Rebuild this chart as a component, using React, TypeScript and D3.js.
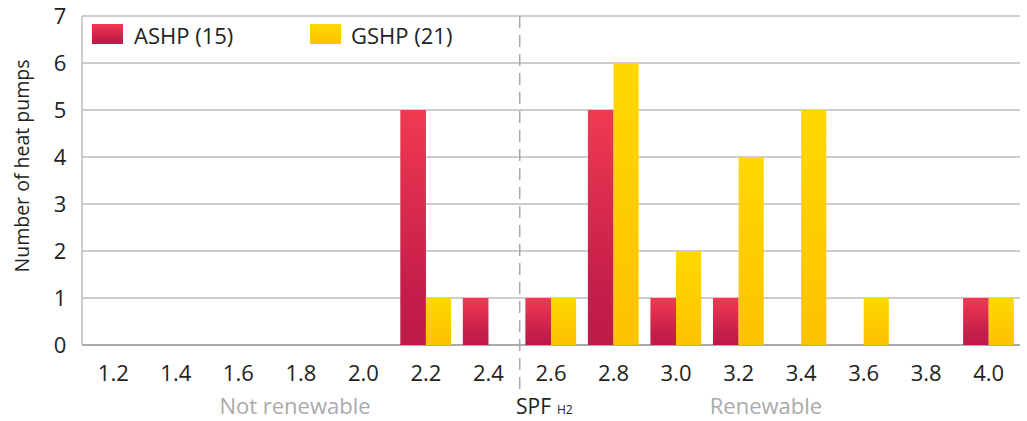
import React from "react";
import * as d3 from "d3";

const categories = ["1.2", "1.4", "1.6", "1.8", "2.0", "2.2", "2.4", "2.6", "2.8", "3.0", "3.2", "3.4", "3.6", "3.8", "4.0"];
const ashp = [0, 0, 0, 0, 0, 5, 1, 1, 5, 1, 1, 0, 0, 0, 1];
const gshp = [0, 0, 0, 0, 0, 1, 0, 1, 6, 2, 4, 5, 1, 0, 1];
const yTicks = [0, 1, 2, 3, 4, 5, 6, 7];
const seriesNames = ["ASHP (15)", "GSHP (21)"];
const dividerAfter = "2.4";

const W = 1027;
const H = 421;
const M = { left: 82, right: 1020, top: 16, bottom: 345 };
const FONT = "'Open Sans', 'Noto Sans', sans-serif";

export default function App() {
  const x = d3.scaleBand<string>().domain(categories).range([M.left, M.right]).paddingInner(0).paddingOuter(0);
  const x1 = d3.scaleBand<string>().domain(["a", "g"]).range([0, x.bandwidth()]).paddingInner(0).paddingOuter(0.22);
  const y = d3.scaleLinear().domain([0, 7]).range([M.bottom, M.top]);
  const divX = (x(dividerAfter) as number) + x.bandwidth();

  return (
    <svg width={W} height={H} style={{ position: "absolute", left: 0, top: 0, fontFamily: FONT }}>
      <defs>
        <linearGradient id="gRed" x1="0" y1="0" x2="0" y2="1">
          <stop offset="0" stopColor="#f03a51" />
          <stop offset="0.75" stopColor="#c51e4a" />
          <stop offset="1" stopColor="#be1a47" />
        </linearGradient>
        <linearGradient id="gYel" x1="0" y1="0" x2="0" y2="1">
          <stop offset="0" stopColor="#ffd800" />
          <stop offset="1" stopColor="#fcc200" />
        </linearGradient>
      </defs>
      <rect x={0} y={0} width={W} height={H} fill="#fff" />
      {/* grid */}
      {yTicks.map((t) => (
        <line key={t} x1={M.left} x2={M.right} y1={y(t)} y2={y(t)} stroke={t === 0 ? "#a8a8ad" : "#bcbcbf"} strokeWidth={t === 0 ? 2 : 1.5} />
      ))}
      <line x1={M.left} x2={M.left} y1={M.top} y2={M.bottom} stroke="#bcbcbf" strokeWidth={1.5} />
      {/* divider */}
      <line x1={divX} x2={divX} y1={M.top} y2={395} stroke="#a8a8ad" strokeWidth={1.5} strokeDasharray="12,7" />
      {/* bars */}
      {categories.map((c, i) => (
        <g key={c} transform={`translate(${x(c)},0)`}>
          {ashp[i] > 0 && (
            <rect x={x1("a")} y={y(ashp[i])} width={x1.bandwidth()} height={y(0) - y(ashp[i])} fill="url(#gRed)" />
          )}
          {gshp[i] > 0 && (
            <rect x={x1("g")} y={y(gshp[i])} width={x1.bandwidth() - 0.5} height={y(0) - y(gshp[i])} fill="url(#gYel)" />
          )}
        </g>
      ))}
      {/* y tick labels */}
      {yTicks.map((t) => (
        <text key={t} x={60} y={y(t) + 8} textAnchor="middle" fontSize={22} fill="#222">
          {t}
        </text>
      ))}
      {/* x tick labels */}
      {categories.map((c) => (
        <text key={c} x={(x(c) as number) + x.bandwidth() / 2} y={381} textAnchor="middle" fontSize={22} fill="#222">
          {c}
        </text>
      ))}
      {/* y title */}
      <text transform={`translate(29,166) rotate(-90)`} textAnchor="middle" fontSize={19.5} fill="#222">
        Number of heat pumps
      </text>
      {/* legend */}
      <rect x={92} y={24} width={31} height={20} fill="url(#gRed)" />
      <text x={134} y={44} fontSize={22} fill="#222">{seriesNames[0]}</text>
      <rect x={310} y={24} width={31} height={20} fill="url(#gYel)" />
      <text x={351} y={44} fontSize={22} fill="#222">{seriesNames[1]}</text>
      {/* bottom annotations */}
      <text x={295} y={414} textAnchor="middle" fontSize={22} fill="#aaaaad">Not renewable</text>
      <text x={766} y={414} textAnchor="middle" fontSize={22} fill="#aaaaad">Renewable</text>
      <text x={516} y={414} fontSize={21} fill="#222">
        SPF<tspan dx={6} fontSize={12}>H2</tspan>
      </text>
    </svg>
  );
}
